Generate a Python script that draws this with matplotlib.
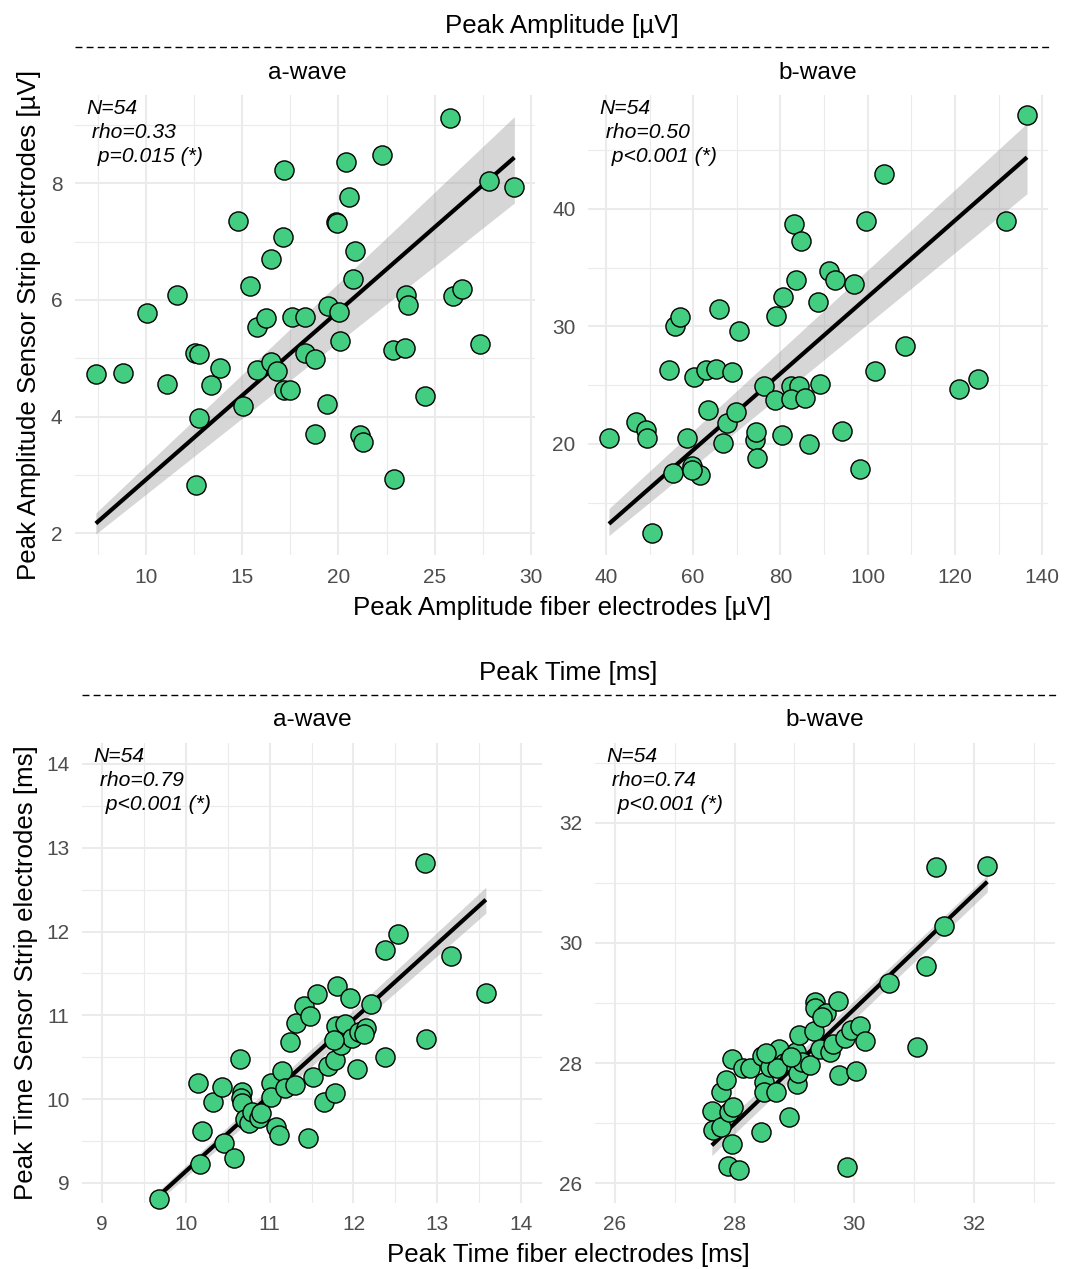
import numpy as np
import matplotlib
matplotlib.use('Agg')
import matplotlib.pyplot as plt
from matplotlib.lines import Line2D
from matplotlib.ticker import FixedLocator

plt.rcParams['font.family'] = ['Liberation Sans', 'DejaVu Sans']

# ---------------------------------------------------------------- data
amp_a_fiber = [7.41, 8.84, 10.09, 11.64, 11.12, 12.54, 12.76, 13.83, 13.37, 12.76,
               12.59, 14.80, 15.04, 15.40, 15.78, 16.22, 16.51, 15.78, 16.48, 16.79,
               17.13, 17.18, 17.17, 17.51, 17.60, 18.26, 18.29, 18.76, 18.79, 19.41,
               19.45, 20.02, 20.10, 19.88, 19.93, 20.41, 20.55, 20.88, 20.74, 21.14,
               21.26, 22.26, 22.83, 23.47, 22.87, 23.52, 23.59, 24.47, 25.80, 25.92,
               26.41, 27.36, 27.82, 29.13]
amp_a_strip = [4.73, 4.75, 5.77, 6.09, 4.56, 5.09, 5.07, 4.84, 4.55, 3.97,
               2.83, 7.36, 4.18, 6.24, 5.54, 5.69, 6.70, 4.80, 4.93, 4.79,
               7.08, 8.22, 4.45, 4.45, 5.70, 5.70, 5.09, 4.98, 3.70, 4.22,
               5.89, 5.80, 5.29, 7.34, 7.31, 8.36, 7.77, 6.83, 6.35, 3.68,
               3.56, 8.48, 5.15, 5.18, 2.94, 6.09, 5.91, 4.35, 9.11, 6.06,
               6.18, 5.24, 8.03, 7.94]

amp_b_fiber = [40.7, 46.9, 49.1, 49.5, 50.5, 54.4, 55.8, 56.9, 55.4, 58.5,
               59.8, 61.5, 59.8, 60.1, 63.0, 65.3, 65.9, 63.4, 66.8, 67.8,
               68.8, 69.9, 70.4, 74.2, 74.5, 74.6, 76.2, 78.8, 78.9, 80.4,
               80.6, 82.3, 84.2, 82.3, 85.7, 83.1, 84.6, 83.6, 86.5, 88.7,
               89.1, 91.1, 92.6, 94.2, 96.8, 98.3, 99.6, 101.7, 103.8, 108.6,
               121.0, 125.2, 131.7, 136.5]
amp_b_strip = [20.5, 21.9, 21.2, 20.5, 12.4, 26.3, 30.0, 30.8, 17.5, 20.5,
               18.1, 17.4, 17.8, 25.7, 26.3, 26.4, 31.5, 22.9, 20.1, 21.8,
               26.1, 22.7, 29.6, 20.3, 21.0, 18.8, 24.9, 23.7, 30.9, 20.8,
               32.5, 24.9, 24.9, 23.8, 23.95, 38.7, 37.3, 33.95, 20.0, 32.1,
               25.1, 34.7, 33.95, 21.1, 33.6, 17.9, 39.0, 26.2, 43.0, 28.3,
               24.7, 25.5, 39.0, 48.0]

time_a_fiber = [9.68, 10.17, 10.19, 10.15, 10.32, 10.43, 10.46, 10.58, 10.65, 10.67,
                10.66, 10.67, 10.71, 10.75, 10.79, 10.87, 10.90, 11.01, 11.02, 11.08,
                11.11, 11.15, 11.18, 11.30, 11.24, 11.32, 11.41, 11.48, 11.46, 11.52,
                11.57, 11.65, 11.70, 11.78, 11.78, 11.79, 11.80, 11.85, 11.90, 11.96,
                11.98, 12.04, 12.06, 12.15, 12.21, 12.38, 12.38, 12.53, 12.85, 12.87,
                13.16, 13.58, 12.12, 11.77]
time_a_strip = [8.81, 9.22, 9.62, 10.19, 9.96, 10.15, 9.48, 9.30, 10.48, 10.09,
                10.01, 9.95, 9.76, 9.71, 9.85, 9.77, 9.84, 10.19, 10.03, 9.67,
                9.57, 10.33, 10.13, 10.17, 10.68, 10.91, 11.11, 10.99, 9.54, 10.26,
                11.26, 9.96, 10.39, 10.47, 10.07, 10.87, 11.35, 10.64, 10.90, 11.21,
                10.73, 10.36, 10.80, 10.85, 11.13, 10.50, 11.78, 11.97, 12.82, 10.72,
                11.71, 11.27, 10.78, 10.70]

time_b_fiber = [27.62, 27.64, 27.78, 27.78, 27.86, 27.90, 27.98, 27.96, 27.89, 28.08,
                27.96, 28.14, 28.26, 28.44, 28.45, 28.49, 28.49, 28.60, 28.70, 28.75,
                28.82, 28.91, 28.91, 29.04, 29.06, 29.03, 29.07, 29.13, 29.26, 29.33,
                29.34, 29.34, 29.42, 29.53, 29.46, 29.59, 29.65, 29.73, 29.75, 29.85,
                29.87, 29.95, 30.03, 30.09, 30.18, 30.58, 31.05, 31.19, 31.36, 31.50,
                32.22, 28.71, 28.95, 28.53]
time_b_strip = [27.21, 26.89, 26.94, 27.52, 27.71, 27.19, 27.27, 26.65, 26.28, 26.22,
                28.06, 27.92, 27.91, 26.85, 28.11, 27.68, 27.52, 27.94, 27.52, 28.24,
                28.00, 28.03, 27.10, 27.65, 27.84, 28.19, 28.46, 28.02, 27.96, 28.53,
                29.02, 28.91, 28.23, 28.83, 28.76, 28.18, 28.31, 29.04, 27.80, 28.42,
                26.27, 28.55, 27.86, 28.62, 28.36, 29.33, 28.26, 29.62, 31.26, 30.28,
                31.29, 27.92, 28.10, 28.16]

amp_a_fit, amp_a_lo, amp_a_hi = [2.17, 8.44], [1.99, 7.66], [2.35, 9.14]
amp_b_fit, amp_b_lo, amp_b_hi = [13.2, 44.4], [12.2, 41.3], [14.5, 47.3]
time_a_fit, time_a_lo, time_a_hi = [8.85, 12.38], [8.79, 12.22], [8.91, 12.53]
time_b_fit, time_b_lo, time_b_hi = [26.63, 31.02], [26.46, 30.85], [26.80, 31.13]

stats_amp_a = 'N=54\n rho=0.33\n  p=0.015 (*)'
stats_amp_b = 'N=54\n rho=0.50\n  p<0.001 (*)'
stats_time_a = 'N=54\n rho=0.79\n  p<0.001 (*)'
stats_time_b = 'N=54\n rho=0.74\n  p<0.001 (*)'

W, H = 1065, 1269
fig = plt.figure(figsize=(W / 100, H / 100), dpi=100)
fig.patch.set_facecolor('white')

GRID = '#EBEBEB'
TICK_C = '#4D4D4D'


def px_axes(x0, y0, x1, y1):
    return fig.add_axes([x0 / W, 1 - y1 / H, (x1 - x0) / W, (y1 - y0) / H])


def panel(ax, x, y, fit, lo, hi, xlim, ylim, xmaj, xmin, ymaj, ymin, stats):
    x = np.asarray(x, float)
    y = np.asarray(y, float)
    ax.set_xlim(*xlim)
    ax.set_ylim(*ylim)
    for s in ax.spines.values():
        s.set_visible(False)
    ax.xaxis.set_major_locator(FixedLocator(xmaj))
    ax.xaxis.set_minor_locator(FixedLocator(xmin))
    ax.yaxis.set_major_locator(FixedLocator(ymaj))
    ax.yaxis.set_minor_locator(FixedLocator(ymin))
    ax.grid(which='major', color=GRID, lw=1.5)
    ax.grid(which='minor', color=GRID, lw=0.8)
    ax.set_axisbelow(True)
    ax.tick_params(which='both', length=0, labelsize=15, labelcolor=TICK_C, pad=9)
    ax.set_xticklabels([f'{v:g}' for v in xmaj])
    ax.set_yticklabels([f'{v:g}' for v in ymaj])

    xe = [x.min(), x.max()]
    ax.fill_between(xe, lo, hi, color='#999999', alpha=0.4, lw=0, zorder=2)
    ax.plot(xe, fit, color='black', lw=3.0, zorder=3, solid_capstyle='butt')
    ax.scatter(x, y, s=190, c='#43CD80', edgecolors='black', linewidths=1.0,
               zorder=4, clip_on=False)
    ax.text(0.025, 0.992, stats, transform=ax.transAxes, ha='left', va='top',
            fontsize=15.2, style='italic', linespacing=1.36, zorder=5)


# ---------------------------------------------------------------- top row
ax1 = px_axes(75, 95, 535, 555)
panel(ax1, amp_a_fiber, amp_a_strip, amp_a_fit, amp_a_lo, amp_a_hi,
      (6.33, 30.2), (1.63, 9.51),
      [10, 15, 20, 25, 30], [7.5, 12.5, 17.5, 22.5, 27.5],
      [2, 4, 6, 8], [3, 5, 7, 9], stats_amp_a)
ax2 = px_axes(588, 95, 1048, 555)
panel(ax2, amp_b_fiber, amp_b_strip, amp_b_fit, amp_b_lo, amp_b_hi,
      (35.9, 141.3), (10.55, 49.7),
      [40, 60, 80, 100, 120, 140], [50, 70, 90, 110, 130],
      [20, 30, 40], [15, 25, 35, 45], stats_amp_b)

# ---------------------------------------------------------------- bottom row
ax3 = px_axes(82, 743, 542, 1203)
panel(ax3, time_a_fiber, time_a_strip, time_a_fit, time_a_lo, time_a_hi,
      (8.76, 14.25), (8.76, 14.25),
      [9, 10, 11, 12, 13, 14], [9.5, 10.5, 11.5, 12.5, 13.5],
      [9, 10, 11, 12, 13, 14], [9.5, 10.5, 11.5, 12.5, 13.5], stats_time_a)
ax4 = px_axes(595, 743, 1055, 1203)
panel(ax4, time_b_fiber, time_b_strip, time_b_fit, time_b_lo, time_b_hi,
      (25.67, 33.35), (25.67, 33.33),
      [26, 28, 30, 32], [27, 29, 31, 33],
      [26, 28, 30, 32], [27, 29, 31, 33], stats_time_b)


def ftext(x, y, s, **kw):
    fig.text(x / W, 1 - y / H, s, ha='center', va='center', **kw)


def dashed(x0, x1, y):
    fig.add_artist(Line2D([x0 / W, x1 / W], [1 - y / H, 1 - y / H],
                          transform=fig.transFigure, color='black', lw=1.0,
                          dashes=(5, 3)))


# section headers, strips and axis titles
ftext(562, 26, 'Peak Amplitude [µV]', fontsize=18.6)
dashed(75, 1050, 47)
ftext(307, 73, 'a-wave', fontsize=17.6)
ftext(818, 73, 'b-wave', fontsize=17.6)
ftext(562, 608, 'Peak Amplitude fiber electrodes [µV]', fontsize=18.6)
ftext(29, 325, 'Peak Amplitude Sensor Strip electrodes [µV]', fontsize=18.6,
      rotation=90)

ftext(568, 673, 'Peak Time [ms]', fontsize=18.6)
dashed(82, 1057, 695)
ftext(312, 720, 'a-wave', fontsize=17.6)
ftext(825, 720, 'b-wave', fontsize=17.6)
ftext(568, 1255, 'Peak Time fiber electrodes [ms]', fontsize=18.6)
ftext(26, 973, 'Peak Time Sensor Strip electrodes [ms]', fontsize=18.6,
      rotation=90)

fig.savefig('out.png', dpi=100, facecolor='white')
